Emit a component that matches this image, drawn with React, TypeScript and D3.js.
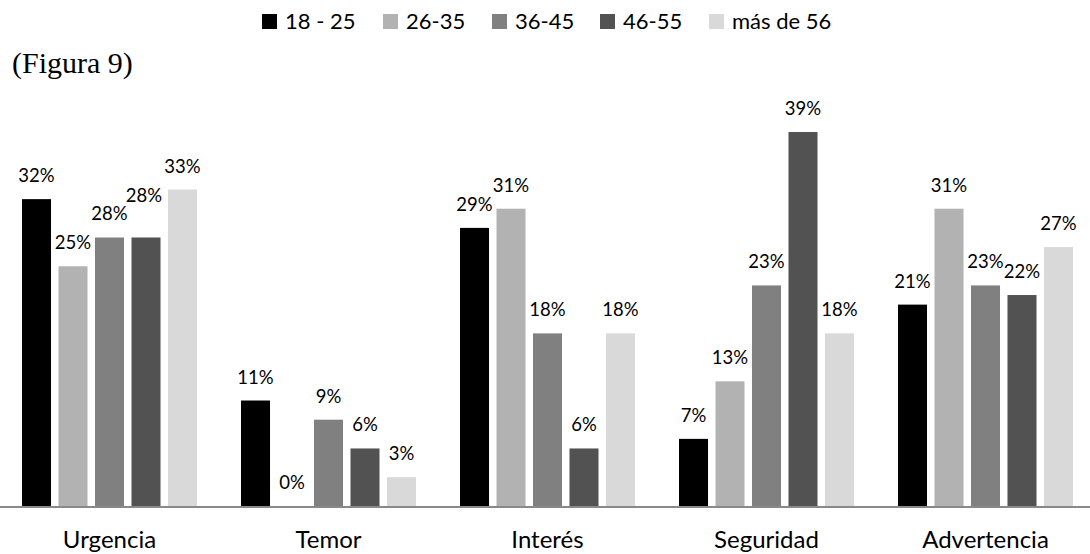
import React from "react";
import * as d3 from "d3";

const categories = ["Urgencia", "Temor", "Interés", "Seguridad", "Advertencia"];
const series = ["18 - 25", "26-35", "36-45", "46-55", "más de 56"];
const colors = ["#000000", "#b2b2b2", "#808080", "#525252", "#d9d9d9"];
const v18_25 = [32, 11, 29, 7, 21];
const v26_35 = [25, 0, 31, 13, 31];
const v36_45 = [28, 9, 18, 23, 23];
const v46_55 = [28, 6, 6, 39, 22];
const v56 = [33, 3, 18, 18, 27];
const values = [v18_25, v26_35, v36_45, v46_55, v56];

const W = 1090;
const H = 554;
const LABEL_FONT = "Lato, 'Open Sans', sans-serif";

export default function App() {
  const x0 = d3.scaleBand<string>().domain(categories).range([0, 1095]);
  const x1 = d3
    .scaleBand<string>()
    .domain(series)
    .range([22, 197])
    .paddingInner(0.205)
    .paddingOuter(0);
  const y = d3.scaleLinear().domain([0, 39]).range([506, 132]);

  const legendX = [262, 383, 492, 600, 709];

  return (
    <svg
      width={W}
      height={H}
      style={{ position: "absolute", left: 0, top: 0, background: "#fff" }}
    >
      <rect x={0} y={0} width={W} height={H} fill="#fff" />
      {/* legend */}
      {series.map((s, i) => (
        <g key={s}>
          <rect x={legendX[i]} y={14} width={15} height={15} fill={colors[i]} />
          <text
            x={legendX[i] + 23}
            y={29}
            fontFamily={LABEL_FONT}
            fontSize={22}
            fill="#000"
          >
            {s}
          </text>
        </g>
      ))}
      <text
        x={12}
        y={73}
        fontFamily="'Liberation Serif', 'Times New Roman', serif"
        fontSize={30}
        fill="#000"
      >
        (Figura 9)
      </text>
      {/* bars */}
      {categories.map((c, ci) => (
        <g key={c} transform={`translate(${x0(c)},0)`}>
          {series.map((s, si) => {
            const v = values[si][ci];
            const bx = x1(s)!;
            const bw = x1.bandwidth();
            const top = y(v);
            let dy = -17;
            let dx = 0;
            if (ci === 0 && si === 3) {
              dy = -35;
              dx = -2;
            }
            return (
              <g key={s}>
                {v > 0 && (
                  <rect
                    x={bx}
                    y={top}
                    width={bw}
                    height={y(0) - top}
                    fill={colors[si]}
                  />
                )}
                <text
                  x={bx + bw / 2 + dx}
                  y={top + dy}
                  textAnchor="middle"
                  fontFamily={LABEL_FONT}
                  fontSize={18.5}
                  fill="#000"
                >
                  {v}%
                </text>
              </g>
            );
          })}
          <text
            x={x0.bandwidth() / 2}
            y={548}
            textAnchor="middle"
            fontFamily={LABEL_FONT}
            fontSize={24}
            fill="#000"
          >
            {c}
          </text>
        </g>
      ))}
      <line x1={0} x2={W} y1={507} y2={507} stroke="#898989" strokeWidth={2} />
    </svg>
  );
}
